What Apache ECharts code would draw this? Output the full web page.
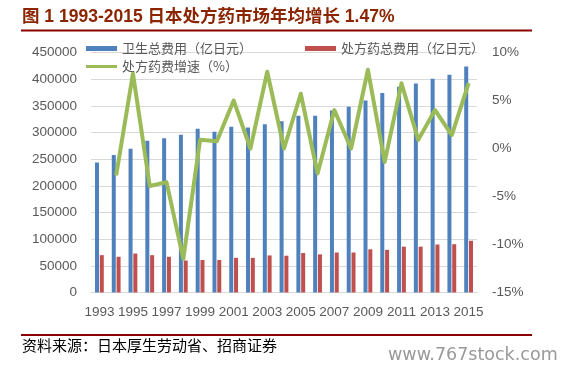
<!DOCTYPE html>
<html>
<head>
<meta charset="utf-8">
<script src="https://cdn.jsdelivr.net/npm/echarts@6/dist/echarts.min.js"></script>
<style>
html,body{margin:0;padding:0;background:#fff;}
#c{width:568px;height:370px;}
</style>
</head>
<body>
<div id="c"></div>
<script>
var years = ['1993','1994','1995','1996','1997','1998','1999','2000','2001','2002','2003','2004','2005','2006','2007','2008','2009','2010','2011','2012','2013','2014','2015'];
var healthTotal = [243600, 257900, 269600, 284500, 289100, 295800, 307000, 301400, 311000, 309500, 315400, 321100, 331300, 331300, 341400, 348100, 360100, 374200, 385900, 392100, 400600, 408100, 423600];
var rxTotal = [70000, 67000, 73000, 70000, 67000, 60000, 61000, 61000, 65000, 65000, 69500, 69000, 74000, 71500, 75000, 75000, 81000, 80000, 86000, 86000, 90000, 90500, 97000];
var rxGrowth = [null, -2.8, 7.8, -3.9, -3.5, -11.5, 0.9, 0.75, 5.0, 0.0, 8.0, 0.0, 5.7, -2.6, 4.0, 0.0, 8.2, -1.4, 6.8, 0.9, 4.0, 1.4, 6.8];
var leftTicks = {min: 0, max: 450000, interval: 50000};
var rightTicks = {min: -15, max: 10, interval: 5};
var titleText = '图 1 1993-2015 日本处方药市场年均增长 1.47%';
var sourceText = '资料来源：日本厚生劳动省、招商证券';
var watermark = 'www.767stock.com';
var names = ['卫生总费用（亿日元）', '处方药总费用（亿日元）', '处方药费增速（%）'];

var chart = echarts.init(document.getElementById('c'), null, {renderer: 'canvas'});
var axisFont = {color: '#595959', fontSize: 13.5, fontFamily: 'Liberation Sans, Arial, sans-serif'};
var legendText = {color: '#595959', fontSize: 13, fontFamily: 'Noto Sans CJK SC, sans-serif'};
chart.setOption({
  animation: false,
  backgroundColor: '#ffffff',
  grid: {left: 91, right: 91, top: 52.5, bottom: 77.5, containLabel: false},
  legend: [
    {left: 81, top: 37, itemWidth: 31, itemHeight: 5, icon: 'rect', textStyle: legendText, data: [names[0]], selectedMode: false},
    {left: 300, top: 37, itemWidth: 31, itemHeight: 5, icon: 'rect', textStyle: legendText, data: [names[1]], selectedMode: false},
    {left: 81, top: 55, itemWidth: 31, itemHeight: 3, icon: 'rect', textStyle: legendText, data: [names[2]], selectedMode: false}
  ],
  xAxis: {
    type: 'category', data: years,
    axisLine: {lineStyle: {color: '#d9d9d9'}},
    axisTick: {show: false},
    axisLabel: Object.assign({interval: 1, margin: 13}, axisFont)
  },
  yAxis: [
    {type: 'value', min: leftTicks.min, max: leftTicks.max, interval: leftTicks.interval,
     axisLine: {show: false}, axisTick: {show: false},
     splitLine: {lineStyle: {color: '#d9d9d9', width: 1}},
     axisLabel: Object.assign({margin: 14, formatter: function (v) { return String(v); }}, axisFont)},
    {type: 'value', min: rightTicks.min, max: rightTicks.max, interval: rightTicks.interval,
     axisLine: {show: false}, axisTick: {show: false}, splitLine: {show: false},
     axisLabel: Object.assign({margin: 15, formatter: '{value}%'}, axisFont)}
  ],
  series: [
    {name: names[0], type: 'bar', data: healthTotal, barWidth: 4, barGap: '20%', itemStyle: {color: '#4F81BD'}},
    {name: names[1], type: 'bar', data: rxTotal, barWidth: 4, barGap: '20%', itemStyle: {color: '#C0504D'}},
    {name: names[2], type: 'line', yAxisIndex: 1, data: rxGrowth, showSymbol: false, symbol: 'none',
     lineStyle: {color: '#9BBB59', width: 4, join: 'round'}, itemStyle: {color: '#9BBB59'}, z: 5}
  ],
  graphic: [
    {type: 'text', left: 22, top: 8, style: {text: titleText, fill: '#8B2500', font: 'bold 17.5px "Liberation Sans", "Noto Sans CJK SC", sans-serif'}},
    {type: 'rect', shape: {x: 21, y: 29.5, width: 511, height: 2}, style: {fill: '#8B0000'}},
    {type: 'rect', shape: {x: 21, y: 334, width: 511, height: 2}, style: {fill: '#8B0000'}},
    {type: 'text', left: 22, top: 338, style: {text: sourceText, fill: '#000000', font: '15px "Noto Sans CJK SC", sans-serif'}},
    {type: 'text', left: 388, top: 346, style: {text: watermark, fill: '#999999', font: '17.5px "DejaVu Sans", sans-serif'}}
  ]
});
</script>
</body>
</html>
